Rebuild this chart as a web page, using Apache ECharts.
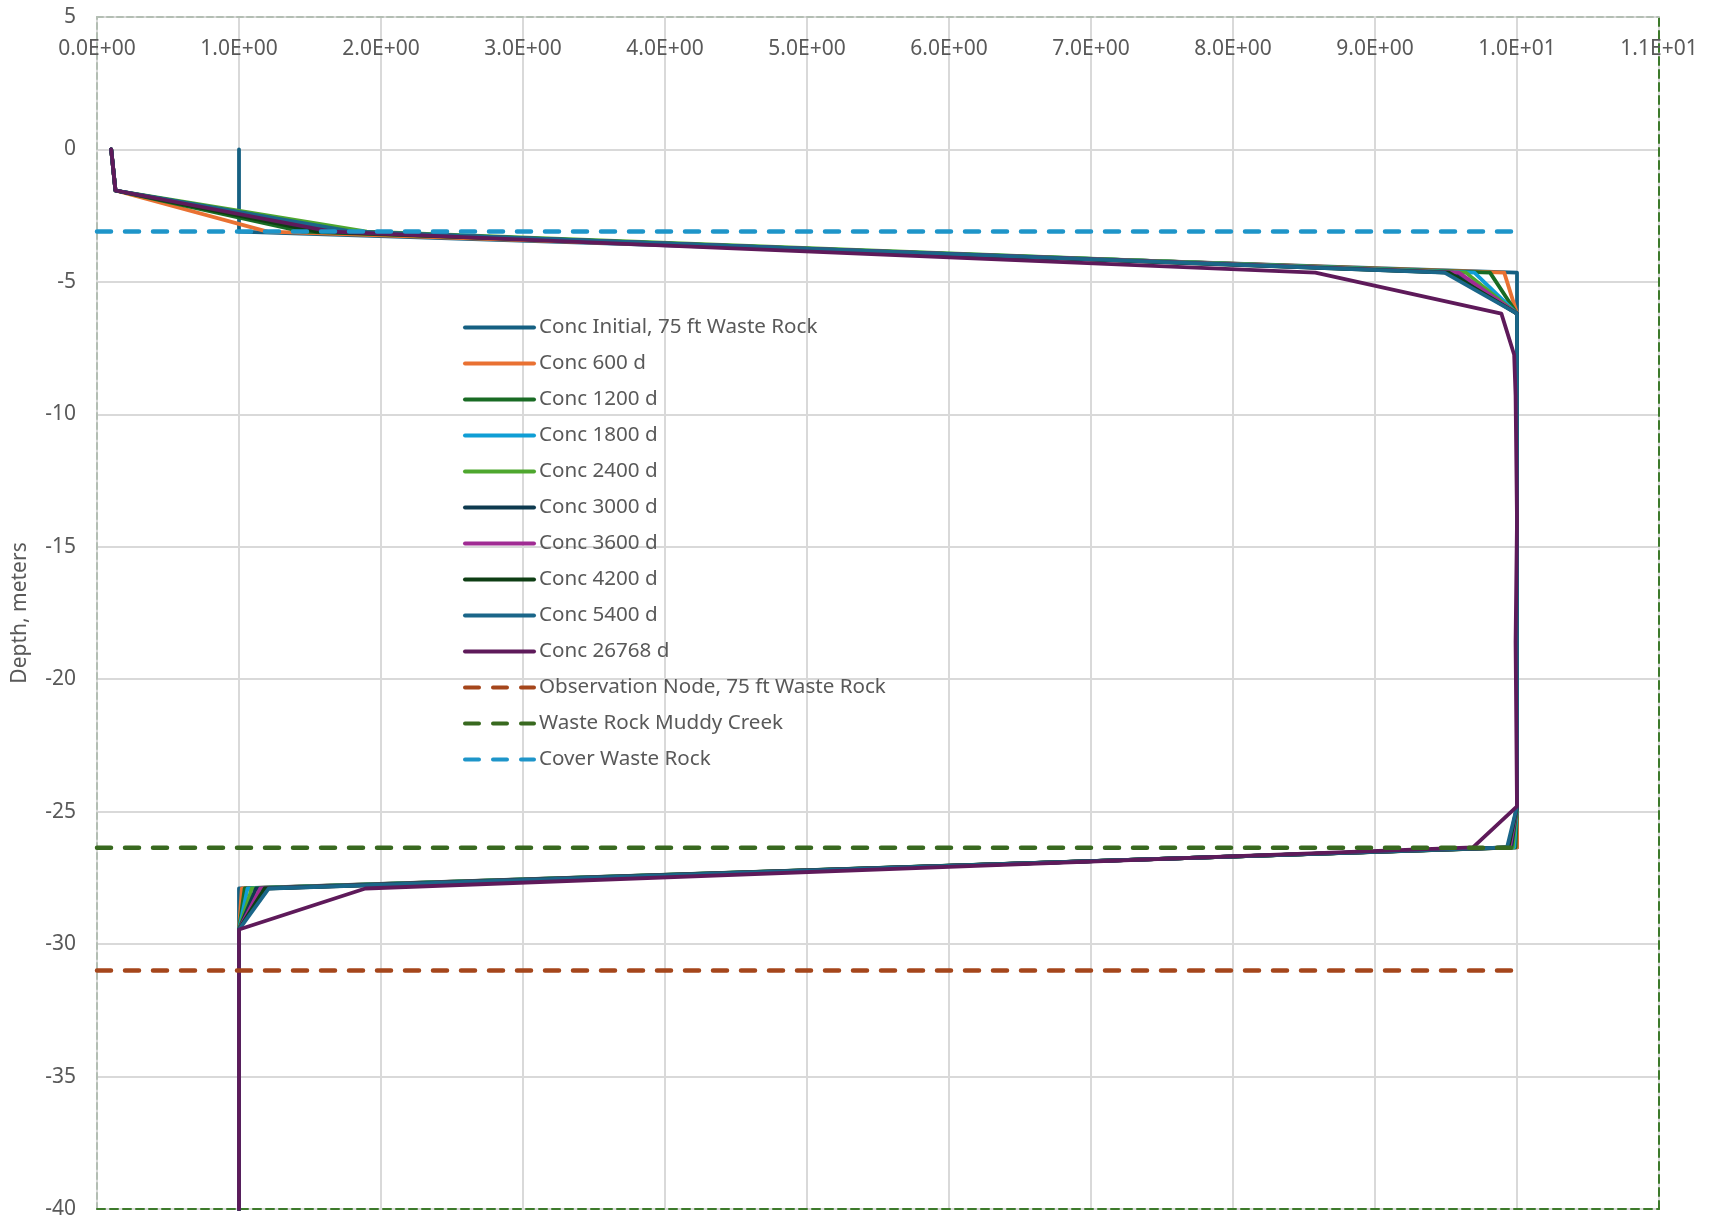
<!DOCTYPE html>
<html>
<head>
<meta charset="utf-8">
<script src="https://cdn.jsdelivr.net/npm/echarts@6/dist/echarts.min.js"></script>
<style>
html,body{margin:0;padding:0;background:#fff;}
#chart{width:1712px;height:1225px;}
</style>
</head>
<body>
<div id="chart"></div>
<script>
// Depth nodes (meters)
const depth = [0, -1.55, -3.1, -4.65, -6.2, -7.75, -9.3, -14.0, -18.6, -24.8, -26.35, -27.9, -29.45, -31.0, -40];

// Concentration profiles (same order as depth)
const concInitial = [1, 1, 1, 10, 10, 10, 10, 10, 10, 10, 10, 1, 1, 1, 1];
const conc600   = [0.1, 0.13, 1.2,  9.91, 10, 10, 10, 10, 10, 10, 10.0, 1.02, 1, 1, 1];
const conc1200  = [0.1, 0.13, 1.45, 9.81, 10, 10, 10, 10, 10, 10, 9.99, 1.04, 1, 1, 1];
const conc1800  = [0.1, 0.13, 1.7,  9.70, 10, 10, 10, 10, 10, 10, 9.98, 1.06, 1, 1, 1];
const conc2400  = [0.1, 0.13, 1.9,  9.64, 10, 10, 10, 10, 10, 10, 9.97, 1.09, 1, 1, 1];
const conc3000  = [0.1, 0.13, 1.75, 9.55, 10, 10, 10, 10, 10, 10, 9.96, 1.12, 1, 1, 1];
const conc3600  = [0.1, 0.13, 1.7,  9.59, 10, 10, 10, 10, 10, 10, 9.95, 1.15, 1, 1, 1];
const conc4200  = [0.1, 0.13, 1.55, 9.52, 10, 10, 10, 10, 10, 10, 9.94, 1.18, 1, 1, 1];
const conc5400  = [0.1, 0.13, 1.8,  9.49, 10, 10, 10, 10, 10, 10, 9.93, 1.21, 1, 1, 1];
const conc26768 = [0.1, 0.13, 1.65, 8.58, 9.89, 9.98, 9.99, 10.0, 9.99, 10, 9.69, 1.89, 1.0, 1.0, 1.0];

// Reference (dashed) horizontal lines
const obsX = [0, 10],    obsY = [-31.0, -31.0];
const muddyX = [0, 10],  muddyY = [-26.36, -26.36];
const coverX = [0, 10],  coverY = [-3.1, -3.1];

const seriesNames = [
  'Conc Initial, 75 ft Waste Rock', 'Conc 600 d', 'Conc 1200 d', 'Conc 1800 d', 'Conc 2400 d',
  'Conc 3000 d', 'Conc 3600 d', 'Conc 4200 d', 'Conc 5400 d', 'Conc 26768 d',
  'Observation Node, 75 ft Waste Rock', 'Waste Rock Muddy Creek', 'Cover Waste Rock'
];
const concSets = [concInitial, conc600, conc1200, conc1800, conc2400, conc3000, conc3600, conc4200, conc5400, conc26768];
const colors = ['#156082', '#E97132', '#196B24', '#0F9ED5', '#4EA72E', '#0E3A4F', '#A02B93', '#0E3E14', '#1A6689', '#5E1A5A',
                '#A5461B', '#38691F', '#1E95C9'];

const xTickMin = 0, xTickMax = 11, xTickStep = 1;
const yTickMin = -40, yTickMax = 5, yTickStep = 5;

function sci(v) {
  if (v === 0) return '0.0E+00';
  let e = Math.floor(Math.log10(Math.abs(v)) + 1e-9);
  let m = v / Math.pow(10, e);
  return m.toFixed(1) + 'E' + (e < 0 ? '-' : '+') + String(Math.abs(e)).padStart(2, '0');
}

const FONT = 'Noto Sans';
const TXT = '#595959';

const series = [];
concSets.forEach((arr, i) => {
  series.push({
    name: seriesNames[i], type: 'line', symbol: 'none', animation: false,
    data: arr.map((c, k) => [c, depth[k]]),
    lineStyle: { color: colors[i], width: 3.8, join: 'round', cap: 'round' },
    itemStyle: { color: colors[i] }, z: 2 + i
  });
});
[[obsX, obsY], [muddyX, muddyY], [coverX, coverY]].forEach((p, j) => {
  const i = 10 + j;
  series.push({
    name: seriesNames[i], type: 'line', symbol: 'none', animation: false,
    data: p[0].map((x, k) => [x, p[1][k]]),
    lineStyle: { color: colors[i], width: 4.5, type: [14, 14], cap: 'round' },
    itemStyle: { color: colors[i] }, z: 20 + j
  });
});

const chart = echarts.init(document.getElementById('chart'), null, { renderer: 'canvas' });
chart.setOption({
  animation: false,
  backgroundColor: '#fff',
  grid: { left: 97, right: 53, top: 17, bottom: 16, containLabel: false },
  legend: {
    orient: 'vertical', left: 458, top: 312,
    itemWidth: 69, itemHeight: 20, itemGap: 15,
    itemStyle: { opacity: 0, borderWidth: 0 },
    lineStyle: { width: 4, cap: 'round' },
    textStyle: { fontFamily: FONT, fontSize: 20.6, color: TXT },
    data: seriesNames
  },
  xAxis: [{
    type: 'value', position: 'top', min: xTickMin, max: xTickMax, interval: xTickStep,
    axisLine: { show: true, onZero: false, lineStyle: { color: '#b3beb3', width: 2, type: [6, 4] } },
    axisTick: { show: false },
    axisLabel: { inside: true, margin: 22, formatter: sci, fontFamily: FONT, fontSize: 21, color: TXT, showMinLabel: true, showMaxLabel: true },
    splitLine: { show: true, lineStyle: { color: '#d9d9d9', width: 2 } }
  }, {
    type: 'value', position: 'bottom', min: xTickMin, max: xTickMax, interval: xTickStep,
    axisLine: { show: true, onZero: false, lineStyle: { color: '#3d7a2b', width: 2, type: [8, 5] } },
    axisTick: { show: false }, axisLabel: { show: false }, splitLine: { show: false }
  }],
  yAxis: [{
    type: 'value', position: 'left', min: yTickMin, max: yTickMax, interval: yTickStep,
    name: 'Depth, meters', nameLocation: 'middle', nameGap: 66, nameRotate: 90,
    nameTextStyle: { fontFamily: FONT, fontSize: 21, color: TXT },
    axisLine: { show: true, onZero: false, lineStyle: { color: '#b3beb3', width: 2, type: [6, 4] } },
    axisTick: { show: false },
    axisLabel: { margin: 21, fontFamily: FONT, fontSize: 21, color: TXT, showMinLabel: true, showMaxLabel: true },
    splitLine: { show: true, lineStyle: { color: '#d9d9d9', width: 2 } }
  }, {
    type: 'value', position: 'right', min: yTickMin, max: yTickMax, interval: yTickStep,
    axisLine: { show: true, onZero: false, lineStyle: { color: '#3d7a2b', width: 2, type: [8, 5] } },
    axisTick: { show: false }, axisLabel: { show: false }, splitLine: { show: false }
  }],
  series: series
});
</script>
</body>
</html>
